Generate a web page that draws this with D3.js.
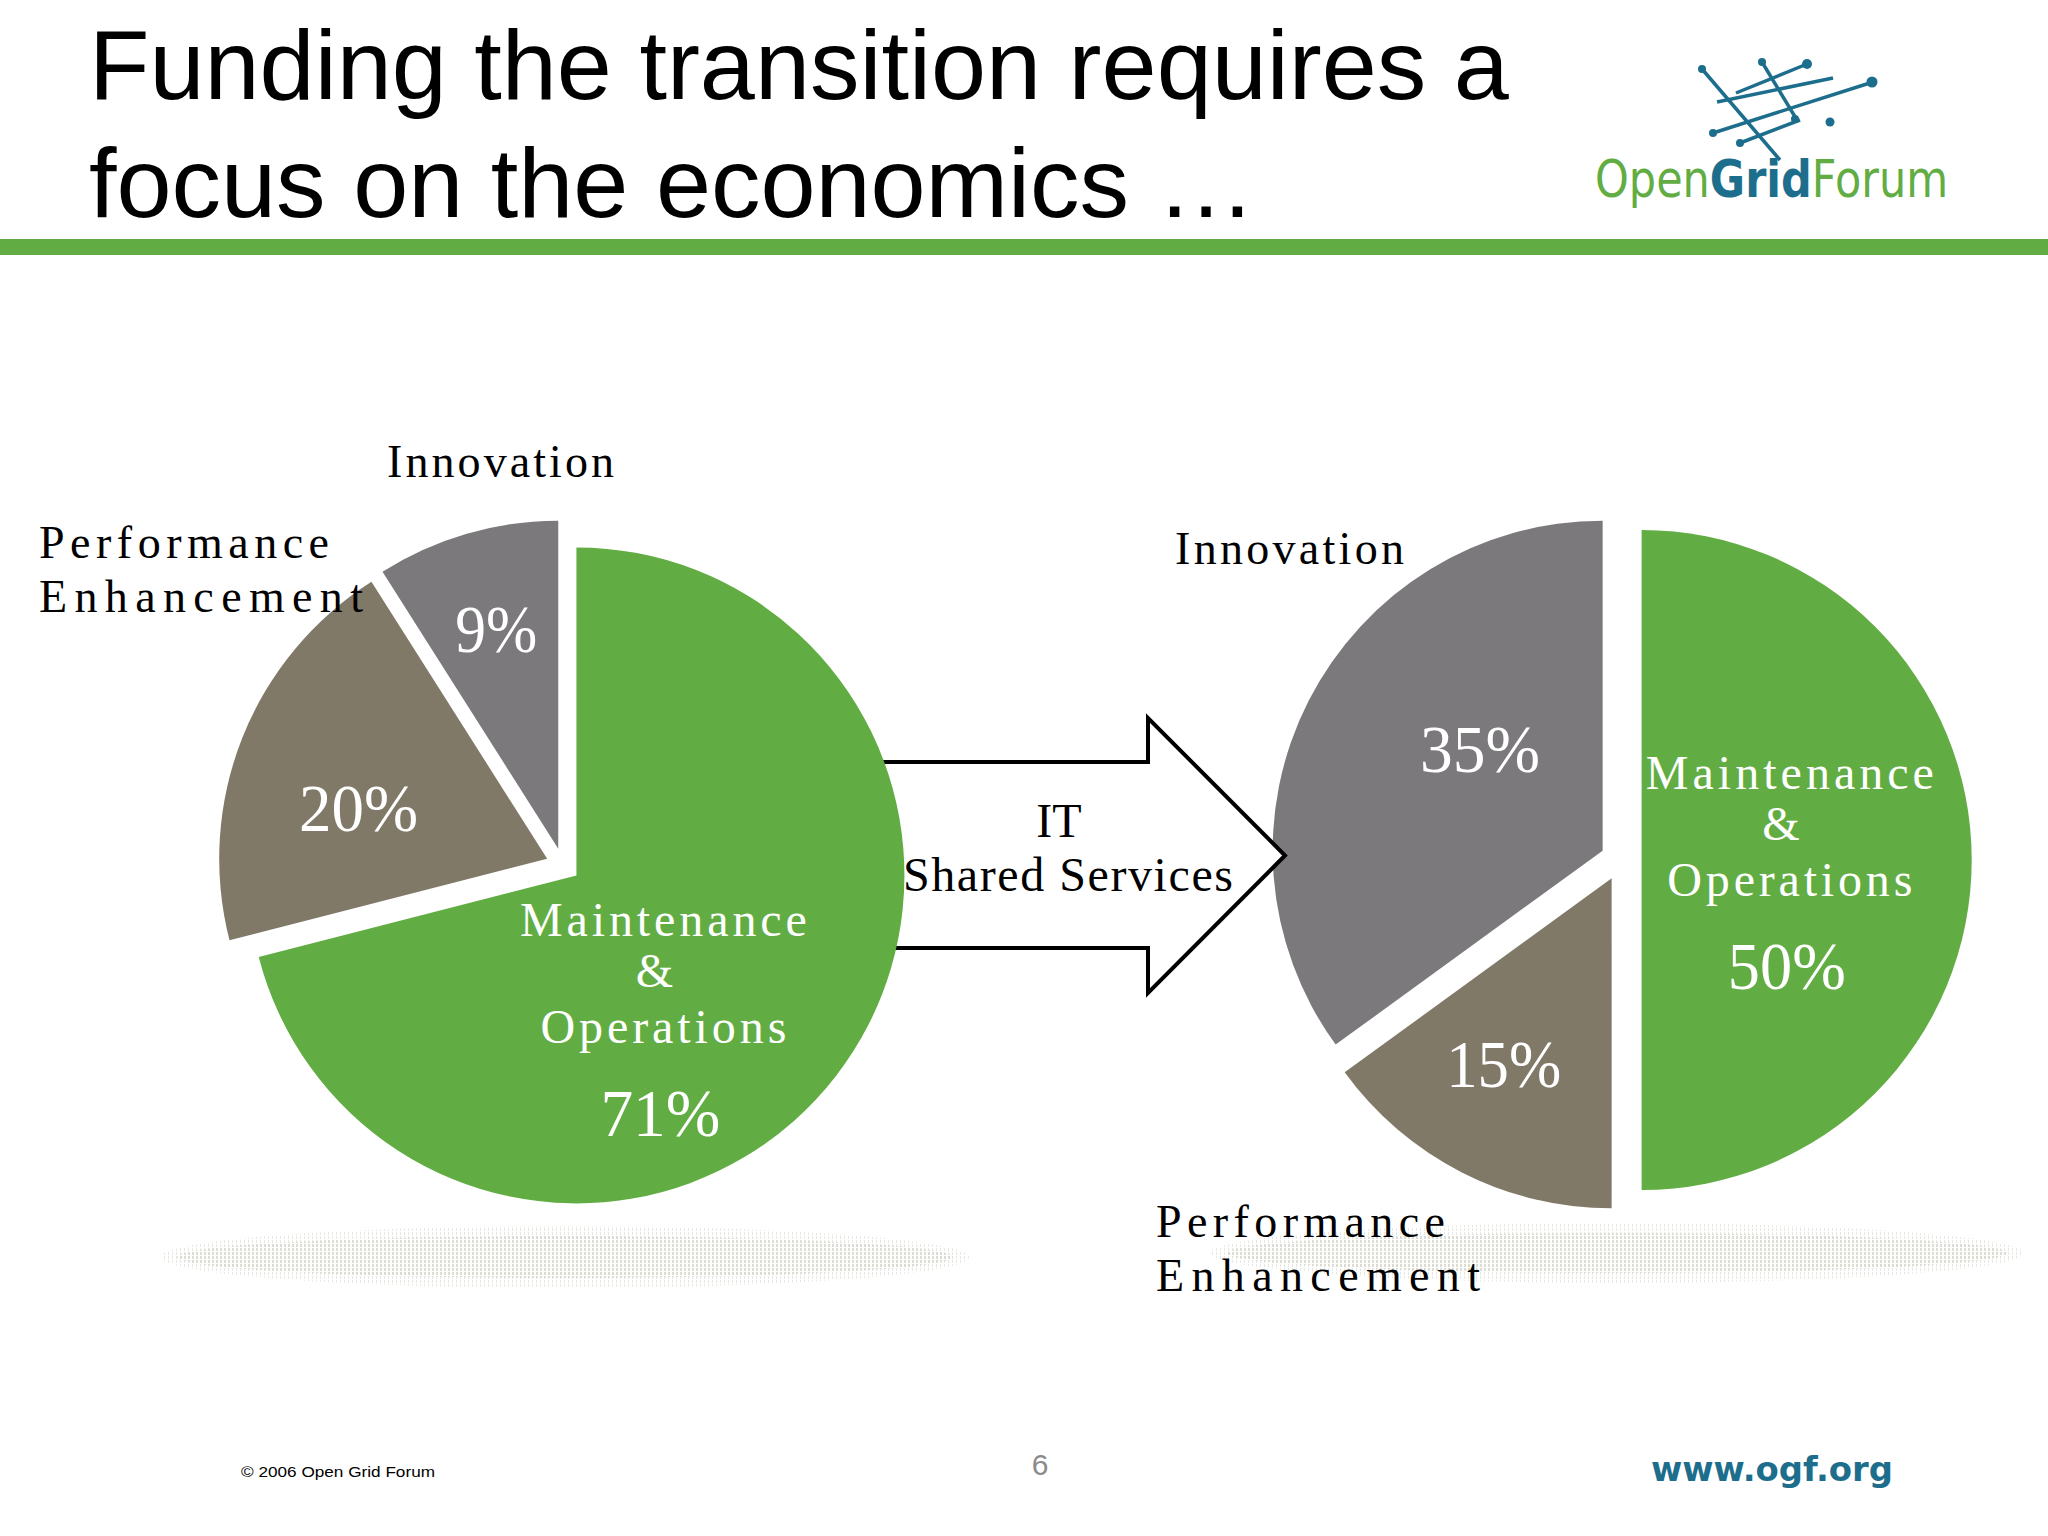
<!DOCTYPE html>
<html>
<head>
<meta charset="utf-8">
<script src="https://cdn.jsdelivr.net/npm/d3@7"></script>
<style>
body { margin: 0; background: #fff; }
svg { display: block; }
</style>
</head>
<body>
<div id="chart"></div>
<script>
// data
const categories = ['Maintenance & Operations', 'Performance Enhancement', 'Innovation']
const categoryLines = [['Maintenance', '&', 'Operations'], ['Performance', 'Enhancement'], ['Innovation']]
const beforeValues = [71, 20, 9]
const afterValues = [50, 15, 35]
const arrowLabel = ['IT', 'Shared Services']
const titleLines = ['Funding the transition requires a', 'focus on the economics \u2026']
const logoWords = ['Open', 'Grid', 'Forum']
const footerLeft = '\u00a9 2006 Open Grid Forum'
const pageNumber = '6'
const footerRight = 'www.ogf.org'

const W = 2048, H = 1536
const serif = "'Liberation Serif', 'Times New Roman', serif"
const sans = "'Liberation Sans', Arial, sans-serif"

const color = d3.scaleOrdinal()
    .domain(categories)
    .range(['#62ad43', '#807968', '#7b797b'])

// layout of the two pies (angles in degrees, clockwise from 12 o'clock)
const pies = [
    {values: beforeValues, cx: 563, cy: 865, r: 328, explode: 17,
        shadow: {cx: 565, cy: 1257, rx: 398, ry: 25},
        inner: [{a: 125.3, f: 0.375, w: [287, 0, 246], pw: 120},
            {a: 285.6, f: 0.647, pw: 119},
            {a: 344.2, f: 0.747, pw: 82}],
        outer: [null, {x: 39, y: 558, w: [290, 324]}, {x: 387, y: 477, w: [227]}]},
    {values: afterValues, cx: 1621, cy: 860, r: 330, explode: 20.6,
        shadow: {cx: 1617, cy: 1253, rx: 400, ry: 24},
        inner: [{a: 67.2, f: 0.555, w: [288, 0, 245], pw: 118},
            {a: 209.9, f: 0.713, pw: 115},
            {a: 308.2, f: 0.544, pw: 120}],
        outer: [null, {x: 1156, y: 1237, w: [289, 324]}, {x: 1175, y: 564, w: [229]}]}
]
const arrow = {x0: 870, shaftTop: 762, shaftBottom: 948, headX: 1148, headTop: 718, headBottom: 993, tipX: 1285}

const svg = d3.select('#chart').append('svg')
    .attr('width', W)
    .attr('height', H)
svg.append('rect').attr('width', W).attr('height', H).attr('fill', '#fff')

const defs = svg.append('defs')
const dots = defs.append('pattern')
    .attr('id', 'dots')
    .attr('width', 4)
    .attr('height', 4)
    .attr('patternUnits', 'userSpaceOnUse')
dots.append('rect').attr('width', 2).attr('height', 3).attr('fill', '#dcdcd2')
const dotsLight = defs.append('pattern')
    .attr('id', 'dotsLight')
    .attr('width', 4)
    .attr('height', 4)
    .attr('patternUnits', 'userSpaceOnUse')
dotsLight.append('rect').attr('width', 1).attr('height', 3).attr('fill', '#e8e8e2')

// title
svg.selectAll('text.title')
    .data(titleLines)
    .join('text')
    .attr('class', 'title')
    .attr('x', 89)
    .attr('y', (d, i) => 99 + i * 118)
    .style('font-family', sans)
    .style('font-size', '99px')
    .attr('fill', '#000')
    .text(d => d)

svg.append('rect')
    .attr('x', 0)
    .attr('y', 239)
    .attr('width', W)
    .attr('height', 16)
    .attr('fill', '#62ad43')

// logo
const logo = svg.append('g')
const logoLines = [[1702, 69, 1780, 160], [1762, 62, 1797, 120], [1717, 102, 1833, 78],
    [1713, 133, 1873, 82], [1740, 143, 1800, 120], [1736, 93, 1807, 64]]
const logoDots = [[1702, 69, 4], [1762, 62, 4], [1807, 64, 5], [1872, 82, 5.5], [1830, 122, 4.5],
    [1713, 133, 4], [1740, 143, 4], [1795, 119, 4]]
logo.selectAll('line').data(logoLines).join('line')
    .attr('x1', d => d[0]).attr('y1', d => d[1])
    .attr('x2', d => d[2]).attr('y2', d => d[3])
    .attr('stroke', '#1d6e8c')
    .attr('stroke-width', 3.5)
logo.selectAll('circle').data(logoDots).join('circle')
    .attr('cx', d => d[0]).attr('cy', d => d[1]).attr('r', d => d[2])
    .attr('fill', '#1d6e8c')
const logoText = logo.append('text')
    .attr('transform', 'translate(1595,197) scale(0.827,1)')
    .style('font-family', "'DejaVu Sans', sans-serif")
    .style('font-size', '52px')
logoText.selectAll('tspan').data(logoWords).join('tspan')
    .attr('fill', (d, i) => i === 1 ? '#1d6e8c' : '#62ad43')
    .style('font-weight', (d, i) => i === 1 ? 'bold' : 'normal')
    .text(d => d)

// shadows
pies.forEach(cfg => {
    svg.append('ellipse')
        .attr('cx', cfg.shadow.cx).attr('cy', cfg.shadow.cy)
        .attr('rx', cfg.shadow.rx + 6).attr('ry', cfg.shadow.ry + 6)
        .attr('fill', 'url(#dotsLight)')
    svg.append('ellipse')
        .attr('cx', cfg.shadow.cx).attr('cy', cfg.shadow.cy)
        .attr('rx', cfg.shadow.rx - 10).attr('ry', cfg.shadow.ry - 4)
        .attr('fill', 'url(#dots)')
})

const pie = d3.pie().sort(null).value(d => d.value)
const rad = deg => deg * Math.PI / 180

function drawPie(cfg) {
    const g = svg.append('g')
        .attr('transform', `translate(${cfg.cx},${cfg.cy})`)
    const arc = d3.arc().innerRadius(0).outerRadius(cfg.r)
    const arcs = pie(categories.map((c, i) => ({cat: c, value: cfg.values[i], idx: i})))
    g.selectAll('path.slice')
        .data(arcs)
        .join('path')
        .attr('class', 'slice')
        .attr('d', arc)
        .attr('fill', d => color(d.data.cat))
        .attr('transform', d => {
            const m = (d.startAngle + d.endAngle) / 2
            return `translate(${cfg.explode * Math.sin(m)},${-cfg.explode * Math.cos(m)})`
        })

    // labels inside the slices
    arcs.forEach(d => {
        const pos = cfg.inner[d.data.idx]
        const x = pos.f * cfg.r * Math.sin(rad(pos.a))
        const y = -pos.f * cfg.r * Math.cos(rad(pos.a))
        const pct = `${d.data.value}%`
        if(pos.w) {
            const lines = categoryLines[d.data.idx]
            const offs = [0, 51, 107]
            lines.forEach((t, j) => {
                const txt = g.append('text')
                    .attr('x', t === '&' ? x - 9 : x)
                    .attr('y', y + offs[j])
                    .attr('text-anchor', 'middle')
                    .attr('fill', '#fff')
                    .style('font-family', serif)
                    .style('font-size', '48px')
                    .text(t)
                if(pos.w[j]) txt.attr('textLength', pos.w[j]).attr('lengthAdjust', 'spacing')
            })
            g.append('text')
                .attr('x', x - 3)
                .attr('y', y + 200)
                .attr('text-anchor', 'middle')
                .attr('fill', '#fff')
                .attr('textLength', pos.pw)
                .attr('lengthAdjust', 'spacingAndGlyphs')
                .style('font-family', serif)
                .style('font-size', '68px')
                .text(pct)
        }
        else {
            g.append('text')
                .attr('x', x)
                .attr('y', y)
                .attr('dy', '0.34em')
                .attr('text-anchor', 'middle')
                .attr('fill', '#fff')
                .attr('textLength', pos.pw)
                .attr('lengthAdjust', 'spacingAndGlyphs')
                .style('font-family', serif)
                .style('font-size', '68px')
                .text(pct)
        }
    })

    // labels outside the pie
    cfg.outer.forEach((o, i) => {
        if(!o) return
        categoryLines[i].forEach((t, j) => {
            svg.append('text')
                .attr('x', o.x)
                .attr('y', o.y + j * 54)
                .attr('fill', '#000')
                .attr('textLength', o.w[j])
                .attr('lengthAdjust', 'spacing')
                .style('font-family', serif)
                .style('font-size', '46px')
                .text(t)
        })
    })
}

// right pie, then the arrow over it, then the left pie over the arrow tail
drawPie(pies[1])

const p = d3.path()
p.moveTo(arrow.x0, arrow.shaftTop)
p.lineTo(arrow.headX, arrow.shaftTop)
p.lineTo(arrow.headX, arrow.headTop)
p.lineTo(arrow.tipX, (arrow.headTop + arrow.headBottom) / 2)
p.lineTo(arrow.headX, arrow.headBottom)
p.lineTo(arrow.headX, arrow.shaftBottom)
p.lineTo(arrow.x0, arrow.shaftBottom)
p.closePath()
svg.append('path')
    .attr('d', p.toString())
    .attr('fill', '#fff')
    .attr('stroke', '#000')
    .attr('stroke-width', 4)
    .attr('stroke-linejoin', 'miter')
svg.append('text')
    .attr('x', 1059)
    .attr('y', 837)
    .attr('text-anchor', 'middle')
    .style('font-family', serif)
    .style('font-size', '48px')
    .text(arrowLabel[0])
svg.append('text')
    .attr('x', 903)
    .attr('y', 891)
    .attr('textLength', 330)
    .attr('lengthAdjust', 'spacing')
    .style('font-family', serif)
    .style('font-size', '48px')
    .text(arrowLabel[1])

drawPie(pies[0])

// footer
svg.append('text')
    .attr('x', 241)
    .attr('y', 1477)
    .attr('textLength', 194)
    .attr('lengthAdjust', 'spacingAndGlyphs')
    .style('font-family', sans)
    .style('font-size', '15px')
    .text(footerLeft)
svg.append('text')
    .attr('x', 1040)
    .attr('y', 1475)
    .attr('text-anchor', 'middle')
    .attr('fill', '#8a8a8a')
    .style('font-family', sans)
    .style('font-size', '30px')
    .text(pageNumber)
svg.append('text')
    .attr('x', 1651)
    .attr('y', 1481)
    .attr('textLength', 242)
    .attr('lengthAdjust', 'spacingAndGlyphs')
    .attr('fill', '#1d6e8c')
    .style('font-family', "'DejaVu Sans', Verdana, sans-serif")
    .style('font-size', '33px')
    .style('font-weight', 'bold')
    .text(footerRight)
</script>
</body>
</html>
